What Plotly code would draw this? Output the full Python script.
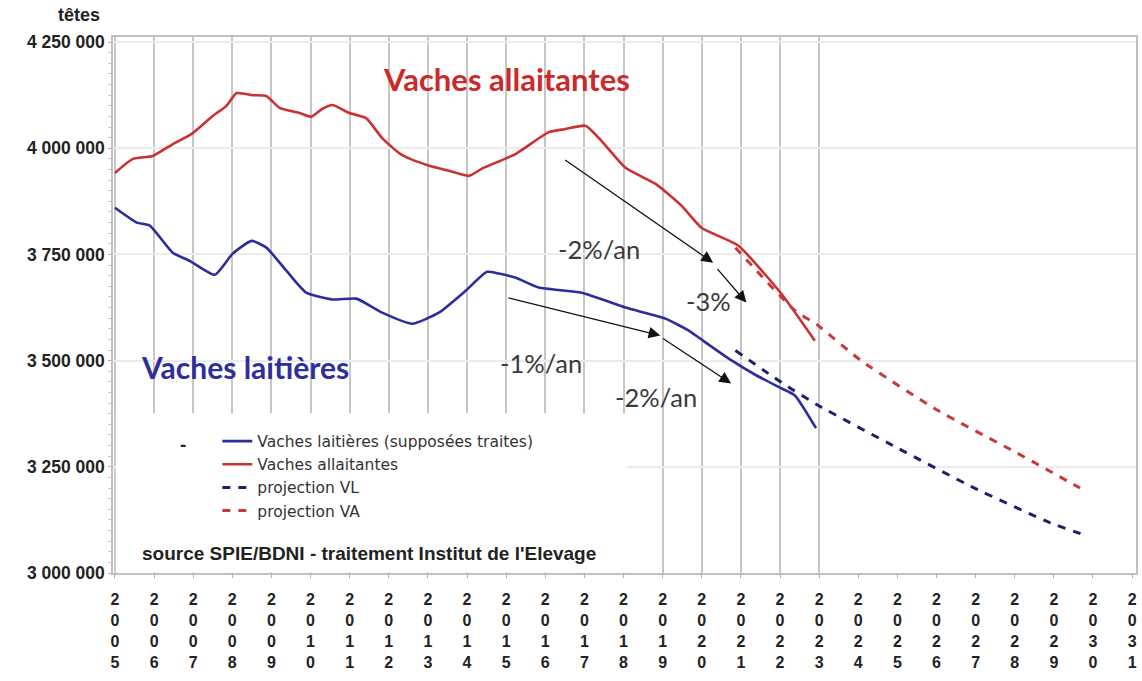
import plotly.graph_objects as go

# ---------------- data ----------------
vl_years = [2005.00, 2005.56, 2005.89, 2006.48, 2006.91, 2007.55, 2008.01, 2008.49, 2008.87,
            2009.38, 2009.89, 2010.56, 2011.17, 2011.83, 2012.60, 2013.28, 2013.97, 2014.51,
            2014.81, 2015.25, 2015.83, 2016.93, 2018.05, 2019.07, 2019.66, 2019.91, 2020.75,
            2021.40, 2022.03, 2022.38, 2022.92]
vl_values = [3860000, 3825000, 3818000, 3754000, 3735000, 3702000, 3752000, 3782000, 3766000,
             3712000, 3660000, 3644000, 3646000, 3613000, 3587000, 3613000, 3665000, 3709000,
             3705000, 3695000, 3672000, 3660000, 3625000, 3599000, 3571000, 3555000, 3501000,
             3465000, 3435000, 3418000, 3341000]

va_years = [2005.00, 2005.46, 2005.97, 2006.48, 2006.96, 2007.50, 2007.85, 2008.11, 2008.52,
            2008.87, 2009.21, 2009.72, 2010.02, 2010.30, 2010.56, 2010.99, 2011.42, 2011.83,
            2012.26, 2012.55, 2013.03, 2013.54, 2014.05, 2014.38, 2015.25, 2016.09, 2016.50,
            2017.03, 2017.44, 2018.05, 2018.82, 2019.48, 2019.99, 2020.93, 2022.03, 2022.89]
va_values = [3942000, 3975000, 3982000, 4010000, 4034000, 4076000, 4100000, 4130000, 4125000,
             4123000, 4095000, 4083000, 4074000, 4093000, 4102000, 4083000, 4071000, 4024000,
             3989000, 3975000, 3959000, 3947000, 3935000, 3952000, 3987000, 4038000, 4045000,
             4053000, 4017000, 3954000, 3916000, 3865000, 3813000, 3771000, 3658000, 3547000]

proj_vl_years = [2020.86, 2022.03, 2022.97, 2025.01, 2026.97, 2028.91, 2029.80]
proj_vl_values = [3524000, 3449000, 3395000, 3294000, 3200000, 3118000, 3089000]

proj_va_years = [2020.86, 2022.38, 2022.97, 2024.07, 2026.03, 2028.07, 2029.67]
proj_va_values = [3766000, 3618000, 3583000, 3500000, 3383000, 3282000, 3200000]

years_axis = list(range(2005, 2032))
grid_years = list(range(2005, 2024))
y_ticks = [3000000, 3250000, 3500000, 3750000, 4000000, 4250000]
y_ticktext = ["3 000 000", "3 250 000", "3 500 000", "3 750 000", "4 000 000", "4 250 000"]

series_names = ["Vaches laitières (supposées traites)", "Vaches allaitantes",
                "projection VL", "projection VA"]

# trend arrows: (head_x, head_y, tail_x, tail_y)
arrows = [
    (2020.29, 3730700, 2016.47, 3975000),
    (2021.14, 3636700, 2020.37, 3719000),
    (2018.94, 3559200, 2015.02, 3648500),
    (2020.75, 3446400, 2018.97, 3554500),
]
rate_labels = [("-2%/an", 2017.37, 3763600), ("-3%", 2020.18, 3641400),
               ("-1%/an", 2015.89, 3493400), ("-2%/an", 2018.83, 3413500)]

# ---------------- figure ----------------
BLUE = "#2c2c9c"
RED = "#cc3030"
BLUE_D = "#1e1e6a"
RED_D = "#c83a3a"

fig = go.Figure()
fig.add_trace(go.Scatter(x=vl_years, y=vl_values, mode="lines", name=series_names[0],
                         line=dict(color=BLUE, width=2.6, shape="spline", smoothing=0.5)))
fig.add_trace(go.Scatter(x=va_years, y=va_values, mode="lines", name=series_names[1],
                         line=dict(color=RED, width=2.6, shape="spline", smoothing=0.5)))
fig.add_trace(go.Scatter(x=proj_vl_years, y=proj_vl_values, mode="lines", name=series_names[2],
                         xaxis="x2", line=dict(color=BLUE_D, width=3, dash="8px,8px",
                                               shape="spline", smoothing=0.5)))
fig.add_trace(go.Scatter(x=proj_va_years, y=proj_va_values, mode="lines", name=series_names[3],
                         xaxis="x2", line=dict(color=RED_D, width=3, dash="8px,8px",
                                               shape="spline", smoothing=0.5)))

xr = [2004.95, 2031.1]
yr = [3000000, 4262000]

annotations = []
for hx, hy, tx, ty in arrows:
    annotations.append(dict(x=hx, y=hy, ax=tx, ay=ty, xref="x", yref="y", axref="x", ayref="y",
                            text="", showarrow=True, arrowhead=2, arrowsize=1.8,
                            arrowwidth=1.3, arrowcolor="#111111"))
for txt, x, y in rate_labels:
    annotations.append(dict(x=x, y=y, xref="x", yref="y", text=txt, showarrow=False,
                            font=dict(family="Lato", size=25.5, color="#3a3a3a")))

annotations += [
    dict(x=2015.0, y=4163000, xref="x", yref="y", text="<b>Vaches allaitantes</b>",
         showarrow=False, font=dict(family="Lato", size=31, color="#cc2a2a")),
    dict(x=2008.32, y=3486000, xref="x", yref="y", text="<b>Vaches laitières</b>",
         showarrow=False, font=dict(family="Lato", size=30, color="#2e2ea0")),
    dict(x=2005.64, y=3047000, xref="x", yref="y", xanchor="left",
         text="<b>source SPIE/BDNI - traitement Institut de l'Elevage</b>",
         showarrow=False, font=dict(family="Liberation Sans", size=19, color="#222222")),
    dict(x=2006.73, y=3303000, xref="x", yref="y", text="<b>-</b>", showarrow=False,
         font=dict(family="Liberation Sans", size=19, color="#222222")),
    dict(x=-0.0107, y=1.041, xref="paper", yref="paper", xanchor="right", yanchor="middle",
         text="<b>têtes</b>", showarrow=False,
         font=dict(family="Liberation Sans", size=18, color="#222222")),
]

fig.update_layout(
    width=1142, height=681,
    margin=dict(l=113, r=4, t=37, b=108),
    paper_bgcolor="white", plot_bgcolor="white",
    showlegend=True,
    legend=dict(x=0.102, y=0.277, xanchor="left", yanchor="top",
                bgcolor="rgba(255,255,255,0)", borderwidth=0,
                font=dict(family="DejaVu Sans", size=15.5, color="#333333"),
                tracegroupgap=0, itemwidth=30),
    xaxis=dict(range=xr, tickmode="array", tickvals=grid_years, showticklabels=False,
               showgrid=True, gridcolor="#c6c6c6", gridwidth=1.5, zeroline=False,
               showline=True, linecolor="#c0c0c0", linewidth=1.5, mirror=True, ticks=""),
    xaxis2=dict(range=xr, overlaying="x", anchor="y", side="bottom", tickmode="array",
                tickvals=years_axis,
                ticktext=["<b>" + "<br>".join(list(str(y))) + "</b>" for y in years_axis],
                showgrid=False, zeroline=False, ticks="outside", ticklen=4,
                tickcolor="#b0b0b0", tickwidth=1, ticklabelstandoff=8,
                tickfont=dict(family="Liberation Sans", size=16, color="#222222"),
                tickangle=0),
    yaxis=dict(range=yr, tickmode="array", tickvals=y_ticks, ticktext=[f"<b>{t}</b>" for t in y_ticktext],
               showgrid=True, gridcolor="#ebebeb", gridwidth=1.5, zeroline=False,
               showline=True, linecolor="#c0c0c0", linewidth=1.5, mirror=True,
               ticks="outside", ticklen=3, tickcolor="#b0b0b0",
               minor=dict(ticks="outside", ticklen=3, dtick=25000, tickcolor="#c8c8c8"),
               tickfont=dict(family="Liberation Sans", size=17.5, color="#222222")),
    annotations=annotations,
    shapes=[dict(type="rect", xref="x", yref="y", x0=2005.02, x1=2018.1,
                 y0=3001000, y1=3376000, layer="between",
                 fillcolor="white", line=dict(width=0))],
)

fig.write_html("out.html", config={"displayModeBar": False},
               post_script="document.body.style.margin='0px';document.body.style.overflow='hidden';")
